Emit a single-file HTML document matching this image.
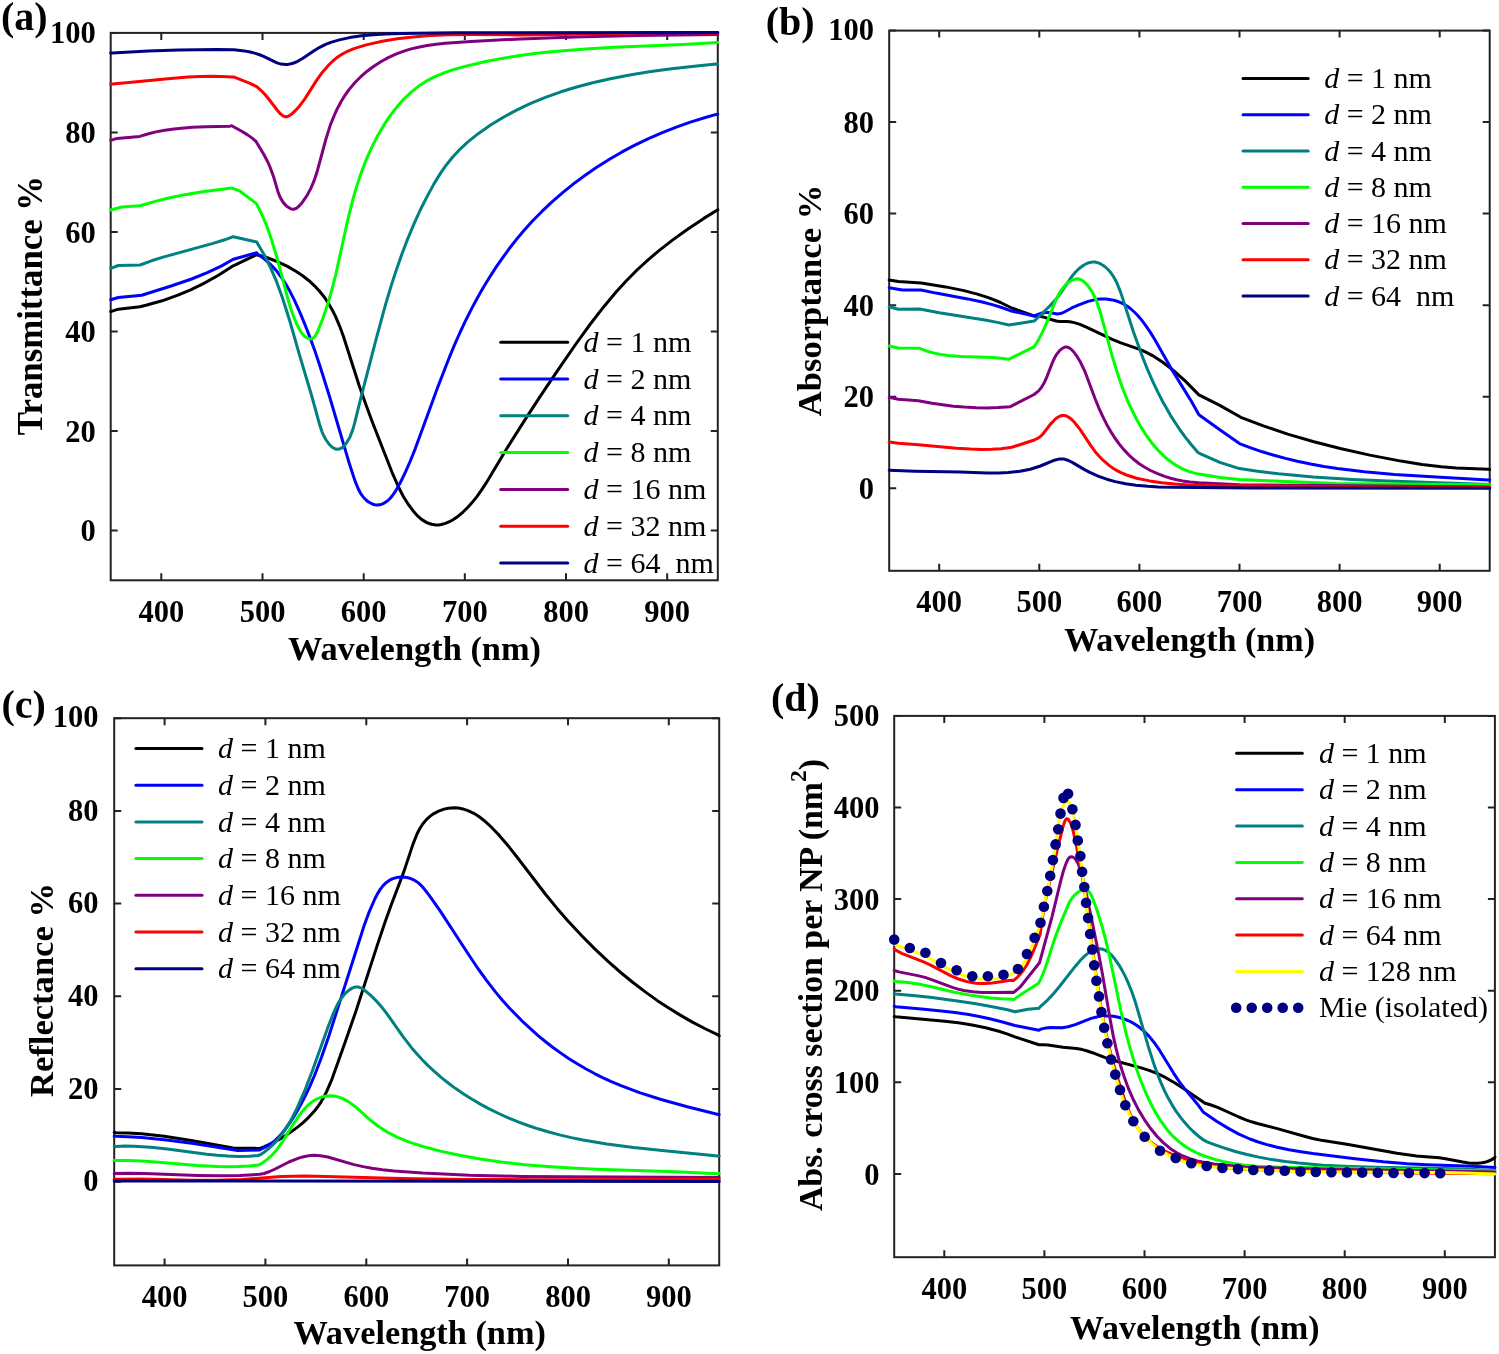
<!DOCTYPE html><html><head><meta charset="utf-8"><style>html,body{margin:0;padding:0;background:#fff;overflow:hidden}svg{display:block;filter:blur(0.45px)}</style></head><body>
<svg width="1499" height="1354" viewBox="0 0 1499 1354">
<rect width="1499" height="1354" fill="#fff"/>
<rect x="110.7" y="32.9" width="607.1" height="547.4" fill="none" stroke="#222222" stroke-width="2"/>
<path d="M161.3,580.3V573.3M161.3,32.9V39.9M262.5,580.3V573.3M262.5,32.9V39.9M363.7,580.3V573.3M363.7,32.9V39.9M464.8,580.3V573.3M464.8,32.9V39.9M566.0,580.3V573.3M566.0,32.9V39.9M667.2,580.3V573.3M667.2,32.9V39.9M110.7,530.4H117.7M717.8,530.4H710.8M110.7,430.9H117.7M717.8,430.9H710.8M110.7,331.4H117.7M717.8,331.4H710.8M110.7,231.9H117.7M717.8,231.9H710.8M110.7,132.4H117.7M717.8,132.4H710.8M110.7,32.9H117.7M717.8,32.9H710.8" stroke="#222222" stroke-width="2" fill="none"/>
<clipPath id="clipa"><rect x="104.7" y="26.9" width="619.1" height="559.4"/></clipPath>
<g clip-path="url(#clipa)" fill="none" stroke-width="3" stroke-linejoin="round" stroke-linecap="round">
<path d="M110.7,311.7 L118.3,309.2 L140.0,306.7 L145.9,305.3 L162.1,300.8 L177.9,295.2 L190.6,289.9 L202.9,283.9 L217.6,275.8 L231.7,266.7 L256.7,254.7 L266.6,257.5 L277.9,261.8 L287.5,266.4 L296.7,271.8 L303.0,276.0 L309.0,280.7 L314.5,285.8 L319.6,291.2 L324.2,297.0 L328.3,303.1 L332.0,309.5 L335.4,316.1 L339.5,325.8 L343.2,335.7 L359.0,385.0 L365.5,403.4 L372.7,422.9 L393.0,474.7 L398.6,487.2 L403.5,496.7 L408.4,504.5 L413.0,510.7 L417.0,515.4 L421.5,519.4 L426.4,522.4 L429.1,523.5 L431.7,524.3 L435.8,524.9 L438.6,524.9 L441.3,524.5 L445.4,523.4 L449.4,521.7 L453.4,519.5 L458.5,515.9 L463.3,511.8 L467.9,507.3 L472.1,502.6 L476.9,496.6 L481.3,490.4 L486.2,482.9 L506.2,449.6 L523.8,421.6 L540.2,396.4 L557.0,371.3 L575.9,344.0 L590.0,324.5 L603.8,306.7 L616.3,291.8 L626.4,280.7 L637.0,270.0 L648.1,259.8 L659.6,250.1 L672.8,239.9 L687.6,229.3 L703.8,218.4 L717.8,209.8" stroke="#000000"/>
<path d="M110.7,299.7 L118.3,297.5 L141.7,295.3 L171.1,286.0 L191.6,279.0 L207.3,272.7 L221.2,266.1 L233.3,259.2 L256.7,252.8 L257.5,254.0 L263.9,258.6 L270.8,264.7 L275.9,270.1 L280.4,276.0 L285.4,283.4 L289.8,291.1 L294.5,300.4 L300.0,312.7 L305.2,325.2 L310.1,337.9 L315.3,352.1 L320.1,366.5 L329.6,396.7 L349.0,462.5 L354.8,480.4 L358.4,489.2 L360.6,493.3 L363.2,497.0 L366.3,500.2 L368.6,502.0 L372.3,504.0 L374.8,504.8 L377.4,505.0 L381.3,504.4 L383.8,503.3 L387.4,501.0 L389.6,499.0 L392.5,495.5 L395.2,491.7 L397.6,487.5 L401.4,480.5 L405.4,472.2 L410.3,461.0 L415.3,448.6 L437.9,386.8 L448.8,358.8 L454.5,344.9 L460.0,332.5 L465.8,320.2 L471.9,308.1 L477.6,297.5 L483.6,287.0 L489.9,276.7 L496.4,266.6 L503.3,256.8 L509.5,248.3 L516.9,238.9 L523.7,230.8 L532.7,220.8 L542.2,211.2 L552.0,201.9 L563.3,192.1 L573.8,183.6 L585.9,174.7 L597.1,167.0 L609.9,159.0 L621.6,152.2 L634.9,145.2 L648.5,138.6 L662.3,132.6 L676.3,127.1 L690.4,122.1 L706.2,117.2 L716.2,114.4 L717.8,114.2" stroke="#0000ff"/>
<path d="M110.7,268.3 L118.3,265.5 L140.0,265.0 L151.5,260.8 L163.1,257.1 L213.0,243.4 L224.7,239.8 L233.3,236.7 L256.7,242.0 L264.3,255.0 L270.3,267.1 L276.3,280.9 L282.0,296.5 L289.8,321.0 L299.7,355.6 L311.6,395.5 L319.5,424.2 L322.0,431.8 L323.9,436.0 L326.1,440.0 L328.7,443.7 L330.7,445.8 L332.7,447.5 L334.9,448.7 L337.0,449.3 L339.2,449.1 L341.3,448.2 L343.3,446.7 L345.2,444.7 L346.9,442.3 L350.0,436.9 L352.8,429.6 L354.5,423.6 L360.8,398.2 L375.4,341.8 L385.3,305.4 L390.9,286.6 L396.5,269.4 L402.0,253.8 L407.9,238.4 L414.3,223.2 L420.5,209.5 L427.3,196.1 L433.8,184.1 L440.1,173.9 L446.1,165.2 L452.7,157.0 L458.8,150.4 L467.6,142.2 L478.2,133.7 L490.6,125.0 L503.4,117.2 L516.6,110.1 L530.1,103.7 L545.4,97.4 L560.9,91.8 L576.7,87.0 L592.7,82.7 L610.4,78.7 L629.8,75.0 L649.2,71.8 L671.6,68.8 L701.4,65.6 L716.1,64.1 L717.8,64.2" stroke="#008080"/>
<path d="M110.7,210.0 L121.7,207.0 L140.0,205.8 L156.3,201.1 L169.7,197.8 L186.2,194.4 L202.8,191.7 L231.7,188.0 L240.0,191.2 L256.2,203.4 L260.4,211.3 L263.5,218.1 L266.4,225.1 L271.9,240.7 L277.1,258.2 L288.2,300.0 L291.1,309.6 L294.3,318.2 L296.9,324.4 L299.2,329.1 L301.0,332.1 L302.9,334.7 L305.1,336.8 L307.6,338.3 L310.1,338.9 L311.3,338.8 L312.4,338.5 L314.3,337.2 L315.8,335.1 L317.2,332.6 L322.9,318.4 L328.2,302.5 L332.0,289.4 L335.7,274.8 L347.3,222.0 L352.7,200.2 L356.0,188.6 L359.7,177.1 L363.3,167.2 L367.2,157.4 L372.2,146.4 L377.7,135.7 L383.8,125.2 L390.5,115.2 L397.0,106.8 L403.9,99.0 L411.5,91.8 L418.4,86.3 L425.8,81.4 L435.0,76.6 L444.7,72.6 L454.7,69.2 L468.0,65.6 L485.8,61.5 L502.1,58.4 L520.0,55.5 L534.8,53.5 L551.2,51.7 L585.6,48.9 L614.1,47.3 L683.2,44.4 L717.8,42.5" stroke="#00ff00"/>
<path d="M110.7,140.4 L117.0,138.4 L139.7,136.4 L148.5,133.8 L155.9,131.9 L164.9,130.2 L174.0,128.9 L192.2,127.3 L205.9,126.7 L230.2,126.2 L231.7,125.7 L241.7,131.2 L247.2,134.6 L252.5,138.4 L256.2,141.7 L264.0,154.8 L267.4,161.2 L269.8,166.5 L273.4,176.2 L277.9,191.5 L279.6,196.0 L281.0,198.9 L283.5,202.9 L286.7,206.3 L290.2,208.6 L292.5,209.2 L293.7,209.2 L296.0,208.5 L298.1,207.0 L302.1,202.7 L307.1,195.4 L311.2,187.6 L314.1,180.7 L317.0,172.1 L325.8,139.5 L330.4,124.9 L333.8,116.5 L336.8,109.7 L341.0,101.7 L344.9,95.4 L349.2,89.4 L355.0,82.5 L360.3,77.2 L367.1,71.2 L373.1,66.7 L380.8,61.7 L388.7,57.4 L397.0,53.7 L404.0,51.1 L411.1,48.9 L418.4,47.2 L427.2,45.5 L436.2,44.2 L445.2,43.3 L470.9,41.5 L520.7,38.9 L574.8,37.0 L637.9,35.6 L717.8,34.4" stroke="#800080"/>
<path d="M110.7,84.4 L112.2,84.1 L128.8,82.6 L165.2,78.9 L187.9,77.1 L200.1,76.5 L210.7,76.3 L221.4,76.5 L232.1,77.0 L233.6,76.9 L250.0,83.3 L256.7,86.7 L261.4,90.8 L265.4,95.0 L269.1,99.5 L277.1,110.0 L280.5,113.9 L282.9,115.8 L284.1,116.4 L285.3,116.8 L286.5,116.8 L288.9,115.9 L291.3,114.3 L294.5,111.5 L298.5,107.3 L304.7,99.1 L316.1,81.1 L321.5,73.4 L328.5,65.2 L332.8,61.0 L336.3,58.1 L340.0,55.5 L345.1,52.5 L349.1,50.6 L354.7,48.4 L366.2,44.9 L382.3,41.3 L397.1,38.8 L413.4,36.9 L429.9,35.6 L449.5,34.8 L472.1,34.6 L519.1,34.9 L543.2,34.8 L660.5,32.6 L689.1,32.6 L716.4,33.2 L717.8,32.9" stroke="#ff0000"/>
<path d="M110.7,53.0 L112.2,53.1 L148.3,51.1 L178.3,50.1 L217.4,49.4 L234.0,49.8 L244.4,50.9 L250.2,52.0 L254.6,53.1 L258.9,54.5 L263.1,56.2 L277.0,62.9 L281.1,64.1 L285.3,64.6 L288.1,64.4 L290.9,63.8 L293.7,63.0 L297.7,61.3 L302.9,58.3 L314.4,50.5 L319.7,47.3 L325.1,44.6 L330.7,42.4 L339.4,39.9 L349.6,37.6 L361.5,35.8 L373.4,34.7 L385.4,34.0 L402.0,33.4 L456.2,32.7 L717.8,32.5" stroke="#000080"/>
</g>
<g font-family="Liberation Serif" font-weight="bold" font-size="30.5" fill="#000">
<text x="161.3" y="622.3" text-anchor="middle">400</text>
<text x="262.5" y="622.3" text-anchor="middle">500</text>
<text x="363.7" y="622.3" text-anchor="middle">600</text>
<text x="464.8" y="622.3" text-anchor="middle">700</text>
<text x="566.0" y="622.3" text-anchor="middle">800</text>
<text x="667.2" y="622.3" text-anchor="middle">900</text>
<text x="95.8" y="541.0" text-anchor="end">0</text>
<text x="95.8" y="441.5" text-anchor="end">20</text>
<text x="95.8" y="342.0" text-anchor="end">40</text>
<text x="95.8" y="242.5" text-anchor="end">60</text>
<text x="95.8" y="143.0" text-anchor="end">80</text>
<text x="95.8" y="42.6" text-anchor="end">100</text>
</g>
<g font-family="Liberation Serif" font-weight="bold" fill="#000">
<text x="414.5" y="659.6" text-anchor="middle" font-size="34.40">Wavelength (nm)</text>
<text transform="translate(42.4,305.5) rotate(-90)" text-anchor="middle" font-size="34.80">Transmittance %</text>
</g>
<text x="1.0" y="29.5" font-family="Liberation Serif" font-weight="bold" font-size="40" fill="#000">(a)</text>
<g font-family="Liberation Serif" font-size="30" fill="#000">
<line x1="500.7" y1="342.2" x2="567.7" y2="342.2" stroke="#000000" stroke-width="3" stroke-linecap="round"/>
<text x="583.5" y="351.8"><tspan font-style="italic">d</tspan> = 1 nm</text>
<line x1="500.7" y1="379.0" x2="567.7" y2="379.0" stroke="#0000ff" stroke-width="3" stroke-linecap="round"/>
<text x="583.5" y="388.6"><tspan font-style="italic">d</tspan> = 2 nm</text>
<line x1="500.7" y1="415.8" x2="567.7" y2="415.8" stroke="#008080" stroke-width="3" stroke-linecap="round"/>
<text x="583.5" y="425.4"><tspan font-style="italic">d</tspan> = 4 nm</text>
<line x1="500.7" y1="452.6" x2="567.7" y2="452.6" stroke="#00ff00" stroke-width="3" stroke-linecap="round"/>
<text x="583.5" y="462.2"><tspan font-style="italic">d</tspan> = 8 nm</text>
<line x1="500.7" y1="489.4" x2="567.7" y2="489.4" stroke="#800080" stroke-width="3" stroke-linecap="round"/>
<text x="583.5" y="499.0"><tspan font-style="italic">d</tspan> = 16 nm</text>
<line x1="500.7" y1="526.2" x2="567.7" y2="526.2" stroke="#ff0000" stroke-width="3" stroke-linecap="round"/>
<text x="583.5" y="535.8"><tspan font-style="italic">d</tspan> = 32 nm</text>
<line x1="500.7" y1="563.0" x2="567.7" y2="563.0" stroke="#000080" stroke-width="3" stroke-linecap="round"/>
<text x="583.5" y="572.6"><tspan font-style="italic">d</tspan> = 64&#160; nm</text>
</g>
<rect x="889.2" y="30.6" width="600.5" height="540.2" fill="none" stroke="#222222" stroke-width="2"/>
<path d="M939.2,570.8V563.8M939.2,30.6V37.6M1039.3,570.8V563.8M1039.3,30.6V37.6M1139.4,570.8V563.8M1139.4,30.6V37.6M1239.5,570.8V563.8M1239.5,30.6V37.6M1339.6,570.8V563.8M1339.6,30.6V37.6M1439.7,570.8V563.8M1439.7,30.6V37.6M889.2,488.2H896.2M1489.7,488.2H1482.7M889.2,396.7H896.2M1489.7,396.7H1482.7M889.2,305.2H896.2M1489.7,305.2H1482.7M889.2,213.6H896.2M1489.7,213.6H1482.7M889.2,122.1H896.2M1489.7,122.1H1482.7M889.2,30.6H896.2M1489.7,30.6H1482.7" stroke="#222222" stroke-width="2" fill="none"/>
<clipPath id="clipb"><rect x="883.2" y="24.6" width="612.5" height="552.2"/></clipPath>
<g clip-path="url(#clipb)" fill="none" stroke-width="3" stroke-linejoin="round" stroke-linecap="round">
<path d="M889.2,280.0 L898.3,281.6 L921.2,282.9 L945.6,286.9 L963.9,290.6 L977.4,294.1 L989.1,297.9 L1000.6,302.5 L1011.7,308.0 L1034.1,316.0 L1037.2,315.9 L1040.2,316.2 L1044.7,317.4 L1051.9,319.8 L1056.3,321.0 L1059.3,321.4 L1066.9,321.5 L1069.9,321.7 L1074.3,322.6 L1080.0,324.4 L1086.9,327.4 L1111.7,339.2 L1120.2,342.6 L1140.3,349.6 L1145.8,352.1 L1152.5,355.6 L1162.8,362.2 L1173.7,370.6 L1185.1,380.9 L1198.9,394.9 L1219.8,405.4 L1240.8,417.3 L1263.4,425.9 L1287.7,434.1 L1313.9,441.8 L1340.3,448.5 L1369.8,455.1 L1401.0,461.1 L1421.9,464.4 L1441.4,466.7 L1456.4,467.9 L1488.2,469.2 L1489.7,469.4" stroke="#000000"/>
<path d="M889.2,287.7 L902.3,290.0 L921.0,290.0 L936.0,293.1 L967.6,298.9 L981.1,301.8 L991.4,304.4 L1001.7,307.5 L1010.3,310.7 L1034.1,316.0 L1041.3,313.2 L1045.7,312.4 L1048.7,312.5 L1057.6,313.9 L1060.4,313.6 L1063.1,312.7 L1071.2,308.2 L1078.2,305.2 L1088.1,301.4 L1095.4,299.6 L1100.0,299.1 L1106.1,299.1 L1112.2,299.9 L1116.6,301.0 L1119.5,302.1 L1123.5,304.0 L1127.4,306.3 L1130.9,309.0 L1134.3,312.0 L1137.5,315.2 L1141.5,319.9 L1145.2,324.8 L1150.4,332.4 L1155.2,340.2 L1172.3,370.4 L1191.5,401.5 L1198.9,414.7 L1219.8,429.8 L1239.5,443.5 L1240.8,444.2 L1250.8,447.9 L1262.3,451.8 L1273.9,455.3 L1285.6,458.4 L1297.3,461.2 L1310.6,464.0 L1323.9,466.4 L1337.4,468.5 L1364.4,471.8 L1394.5,474.5 L1427.8,476.6 L1488.1,480.0 L1489.7,479.9" stroke="#0000ff"/>
<path d="M889.2,306.7 L898.3,309.3 L919.7,309.0 L939.3,312.7 L986.4,320.3 L998.5,322.6 L1009.0,325.0 L1034.3,321.0 L1049.5,306.2 L1055.5,299.9 L1060.1,293.9 L1071.6,276.8 L1075.6,272.0 L1078.8,268.8 L1083.6,265.2 L1086.2,263.8 L1089.0,262.7 L1093.3,261.9 L1094.7,262.0 L1097.6,262.6 L1100.3,263.7 L1102.9,265.2 L1105.3,267.0 L1108.5,270.0 L1110.4,272.2 L1113.0,275.8 L1116.6,282.2 L1120.6,292.1 L1133.4,331.7 L1142.7,357.5 L1147.8,370.1 L1152.6,381.1 L1157.7,391.9 L1162.5,401.3 L1170.6,415.6 L1179.7,429.5 L1185.1,436.8 L1190.7,444.0 L1197.8,452.3 L1198.9,453.1 L1219.8,462.4 L1239.5,468.6 L1257.5,471.2 L1278.5,473.8 L1313.1,476.9 L1352.3,479.4 L1388.5,481.0 L1489.7,484.6" stroke="#008080"/>
<path d="M889.2,346.0 L898.3,348.0 L919.7,348.3 L925.6,350.7 L933.1,352.9 L940.7,354.5 L948.3,355.6 L960.6,356.5 L993.0,357.6 L1000.7,358.2 L1008.3,359.3 L1018.3,354.7 L1034.3,346.7 L1038.5,339.9 L1042.6,331.9 L1046.7,322.6 L1055.8,300.2 L1058.7,294.4 L1061.2,290.3 L1065.0,285.5 L1067.2,283.4 L1069.7,281.5 L1072.3,280.1 L1075.0,279.1 L1077.8,278.8 L1079.1,279.0 L1081.5,279.9 L1083.8,281.6 L1085.9,283.5 L1088.7,286.8 L1092.7,292.9 L1096.5,301.0 L1100.4,312.6 L1111.7,354.4 L1118.8,377.4 L1122.8,388.7 L1127.2,399.8 L1131.5,409.3 L1136.3,418.7 L1141.5,427.9 L1146.5,435.6 L1151.9,443.0 L1157.8,450.0 L1163.1,455.4 L1168.8,460.3 L1174.9,464.6 L1181.4,468.3 L1185.5,470.2 L1189.8,471.8 L1194.3,473.1 L1198.9,474.1 L1220.0,477.5 L1239.5,479.5 L1336.3,483.4 L1489.7,484.8" stroke="#00ff00"/>
<path d="M889.2,397.3 L898.3,399.3 L918.3,400.7 L932.0,403.2 L942.6,404.8 L953.4,406.2 L964.1,407.1 L976.4,407.8 L987.2,407.9 L998.0,407.6 L1010.3,406.7 L1034.1,394.5 L1038.6,390.9 L1041.4,387.5 L1044.5,382.2 L1047.1,376.3 L1052.5,362.4 L1054.5,358.1 L1056.8,354.1 L1059.5,350.7 L1062.7,348.1 L1064.9,347.1 L1067.2,347.1 L1068.4,347.5 L1070.6,348.8 L1073.8,352.0 L1077.5,357.2 L1080.7,362.6 L1085.2,372.2 L1095.3,399.2 L1098.8,407.8 L1102.6,416.2 L1106.7,424.4 L1110.5,431.1 L1114.5,437.5 L1118.9,443.6 L1123.6,449.4 L1128.7,454.8 L1134.2,459.8 L1138.9,463.5 L1143.9,466.8 L1150.5,470.5 L1157.5,473.7 L1164.7,476.4 L1170.6,478.2 L1176.6,479.7 L1182.6,480.9 L1190.0,482.0 L1198.9,482.7 L1239.5,484.8 L1489.7,486.9" stroke="#800080"/>
<path d="M889.2,442.0 L898.3,443.3 L918.3,444.7 L956.5,448.2 L970.4,449.1 L981.1,449.4 L991.9,449.3 L1001.0,448.7 L1010.2,447.6 L1011.7,447.3 L1034.3,440.0 L1038.5,437.9 L1040.8,436.1 L1042.9,434.0 L1050.3,424.4 L1054.7,419.7 L1057.1,417.7 L1059.6,416.3 L1062.2,415.5 L1063.4,415.4 L1066.0,415.8 L1068.4,417.0 L1070.8,418.7 L1074.2,422.0 L1080.2,429.7 L1090.8,445.7 L1095.2,451.7 L1099.2,456.3 L1102.4,459.6 L1109.4,465.6 L1113.1,468.3 L1117.0,470.6 L1121.0,472.7 L1126.5,475.0 L1136.5,478.2 L1149.7,480.9 L1161.6,482.7 L1175.1,484.1 L1188.6,484.9 L1205.2,485.5 L1259.4,485.8 L1342.2,486.8 L1489.7,487.6" stroke="#ff0000"/>
<path d="M889.2,470.3 L914.8,471.3 L959.8,472.1 L987.0,472.9 L999.1,473.0 L1008.1,472.6 L1020.0,471.3 L1030.3,469.2 L1040.4,466.0 L1054.5,460.2 L1058.7,459.1 L1061.5,458.9 L1064.3,459.1 L1068.5,460.5 L1072.7,462.6 L1084.5,469.6 L1089.8,472.4 L1098.1,476.1 L1106.7,479.2 L1115.3,481.6 L1125.5,483.7 L1135.9,485.2 L1147.9,486.3 L1158.4,486.9 L1172.0,487.2 L1251.9,487.9 L1489.7,488.2" stroke="#000080"/>
</g>
<g font-family="Liberation Serif" font-weight="bold" font-size="30.5" fill="#000">
<text x="939.2" y="612.1" text-anchor="middle">400</text>
<text x="1039.3" y="612.1" text-anchor="middle">500</text>
<text x="1139.4" y="612.1" text-anchor="middle">600</text>
<text x="1239.5" y="612.1" text-anchor="middle">700</text>
<text x="1339.6" y="612.1" text-anchor="middle">800</text>
<text x="1439.7" y="612.1" text-anchor="middle">900</text>
<text x="874.0" y="498.8" text-anchor="end">0</text>
<text x="874.0" y="407.3" text-anchor="end">20</text>
<text x="874.0" y="315.8" text-anchor="end">40</text>
<text x="874.0" y="224.2" text-anchor="end">60</text>
<text x="874.0" y="132.7" text-anchor="end">80</text>
<text x="874.0" y="40.3" text-anchor="end">100</text>
</g>
<g font-family="Liberation Serif" font-weight="bold" fill="#000">
<text x="1189.6" y="651.0" text-anchor="middle" font-size="34.10">Wavelength (nm)</text>
<text transform="translate(820.5,300.5) rotate(-90)" text-anchor="middle" font-size="34.60">Absorptance %</text>
</g>
<text x="765.7" y="34.5" font-family="Liberation Serif" font-weight="bold" font-size="40" fill="#000">(b)</text>
<g font-family="Liberation Serif" font-size="30" fill="#000">
<line x1="1243.0" y1="78.4" x2="1308.2" y2="78.4" stroke="#000000" stroke-width="3" stroke-linecap="round"/>
<text x="1324.2" y="88.0"><tspan font-style="italic">d</tspan> = 1 nm</text>
<line x1="1243.0" y1="114.7" x2="1308.2" y2="114.7" stroke="#0000ff" stroke-width="3" stroke-linecap="round"/>
<text x="1324.2" y="124.3"><tspan font-style="italic">d</tspan> = 2 nm</text>
<line x1="1243.0" y1="150.9" x2="1308.2" y2="150.9" stroke="#008080" stroke-width="3" stroke-linecap="round"/>
<text x="1324.2" y="160.5"><tspan font-style="italic">d</tspan> = 4 nm</text>
<line x1="1243.0" y1="187.2" x2="1308.2" y2="187.2" stroke="#00ff00" stroke-width="3" stroke-linecap="round"/>
<text x="1324.2" y="196.8"><tspan font-style="italic">d</tspan> = 8 nm</text>
<line x1="1243.0" y1="223.5" x2="1308.2" y2="223.5" stroke="#800080" stroke-width="3" stroke-linecap="round"/>
<text x="1324.2" y="233.1"><tspan font-style="italic">d</tspan> = 16 nm</text>
<line x1="1243.0" y1="259.8" x2="1308.2" y2="259.8" stroke="#ff0000" stroke-width="3" stroke-linecap="round"/>
<text x="1324.2" y="269.4"><tspan font-style="italic">d</tspan> = 32 nm</text>
<line x1="1243.0" y1="296.0" x2="1308.2" y2="296.0" stroke="#000080" stroke-width="3" stroke-linecap="round"/>
<text x="1324.2" y="305.6"><tspan font-style="italic">d</tspan> = 64&#160; nm</text>
</g>
<rect x="114.2" y="718.2" width="605.0" height="547.2" fill="none" stroke="#222222" stroke-width="2"/>
<path d="M164.6,1265.4V1258.4M164.6,718.2V725.2M265.4,1265.4V1258.4M265.4,718.2V725.2M366.3,1265.4V1258.4M366.3,718.2V725.2M467.1,1265.4V1258.4M467.1,718.2V725.2M568.0,1265.4V1258.4M568.0,718.2V725.2M668.8,1265.4V1258.4M668.8,718.2V725.2M114.2,1181.7H121.2M719.2,1181.7H712.2M114.2,1089.0H121.2M719.2,1089.0H712.2M114.2,996.3H121.2M719.2,996.3H712.2M114.2,903.6H121.2M719.2,903.6H712.2M114.2,810.9H121.2M719.2,810.9H712.2M114.2,718.2H121.2M719.2,718.2H712.2" stroke="#222222" stroke-width="2" fill="none"/>
<clipPath id="clipc"><rect x="108.2" y="712.2" width="617.0" height="559.2"/></clipPath>
<g clip-path="url(#clipc)" fill="none" stroke-width="3" stroke-linejoin="round" stroke-linecap="round">
<path d="M114.2,1132.3 L115.7,1132.7 L127.9,1133.0 L141.6,1133.8 L164.2,1136.2 L191.3,1140.4 L233.2,1148.0 L259.7,1148.4 L263.9,1146.9 L272.1,1143.2 L278.7,1139.7 L285.2,1135.8 L291.5,1131.6 L297.6,1127.1 L303.4,1122.3 L307.8,1118.2 L314.9,1110.5 L318.5,1105.8 L320.9,1102.1 L323.9,1096.9 L326.6,1091.6 L332.0,1079.1 L345.2,1042.1 L355.5,1012.4 L377.3,945.1 L385.0,922.3 L391.0,905.5 L403.7,872.1 L413.0,844.1 L417.0,834.0 L419.7,828.7 L422.9,823.7 L426.7,819.3 L429.9,816.4 L433.4,813.8 L438.6,811.1 L444.1,809.1 L448.4,808.2 L454.2,807.8 L458.5,808.1 L462.9,808.9 L468.5,810.8 L473.8,813.3 L478.9,816.5 L483.7,820.2 L489.5,825.3 L498.2,834.3 L509.2,847.1 L518.5,859.0 L545.7,894.5 L557.1,908.4 L568.0,920.9 L581.3,935.3 L594.0,948.1 L608.3,961.6 L621.9,973.5 L633.6,983.0 L645.6,992.1 L657.8,1000.9 L669.1,1008.3 L680.7,1015.4 L692.4,1022.1 L705.7,1029.0 L718.0,1034.8 L719.2,1035.8" stroke="#000000"/>
<path d="M114.2,1136.0 L115.7,1136.3 L128.0,1136.7 L141.8,1137.5 L166.3,1139.9 L193.7,1143.6 L237.7,1150.6 L259.7,1149.9 L268.0,1145.7 L271.7,1143.1 L275.2,1140.3 L279.5,1136.2 L284.3,1130.5 L289.6,1123.2 L295.2,1114.4 L300.4,1105.3 L305.2,1096.0 L309.7,1086.6 L314.5,1075.5 L321.5,1057.2 L329.4,1034.4 L364.0,926.0 L369.2,911.8 L374.8,899.0 L377.7,893.4 L380.2,889.4 L382.9,885.8 L386.1,882.7 L389.6,880.2 L392.2,878.9 L396.4,877.6 L400.8,877.1 L405.2,877.3 L408.1,877.8 L410.9,878.6 L413.6,879.8 L416.0,881.2 L418.4,882.9 L420.5,884.8 L423.6,888.1 L429.2,895.3 L439.8,910.4 L467.9,953.5 L477.9,968.5 L486.7,980.6 L495.8,992.4 L502.6,1000.5 L509.6,1008.3 L523.3,1022.2 L537.8,1035.3 L545.9,1042.0 L553.0,1047.5 L561.6,1053.6 L569.0,1058.7 L578.0,1064.3 L585.7,1068.8 L595.0,1073.8 L603.1,1077.9 L611.3,1081.6 L621.0,1085.7 L639.5,1092.6 L661.1,1099.5 L687.3,1106.7 L719.2,1114.7" stroke="#0000ff"/>
<path d="M114.2,1146.2 L115.7,1146.5 L124.9,1146.1 L134.0,1146.2 L150.7,1147.2 L167.4,1149.0 L206.7,1154.2 L217.3,1155.3 L227.9,1156.1 L238.5,1156.4 L249.1,1156.2 L258.2,1155.5 L261.1,1154.3 L264.8,1151.7 L269.4,1148.0 L272.7,1144.9 L276.8,1140.6 L283.3,1132.3 L289.8,1122.1 L293.4,1115.4 L297.5,1107.2 L305.3,1089.3 L312.2,1071.3 L328.4,1026.0 L333.6,1012.9 L336.8,1005.8 L339.0,1001.8 L341.5,998.0 L344.3,994.5 L346.3,992.4 L349.7,989.6 L352.2,988.1 L354.8,987.1 L357.4,986.9 L358.7,987.1 L361.3,988.1 L365.0,990.6 L370.9,995.5 L377.2,1001.9 L382.1,1007.6 L386.8,1013.6 L403.4,1037.1 L411.7,1047.9 L416.6,1053.6 L422.7,1060.2 L428.0,1065.6 L434.6,1071.7 L441.4,1077.6 L448.5,1083.2 L455.7,1088.6 L464.4,1094.5 L472.1,1099.3 L481.2,1104.6 L489.2,1108.9 L498.7,1113.5 L508.3,1117.9 L518.1,1121.8 L528.0,1125.5 L537.9,1128.8 L548.0,1131.8 L559.6,1134.9 L571.3,1137.6 L583.0,1140.0 L606.8,1144.1 L633.7,1147.6 L662.2,1150.6 L717.7,1155.9 L719.2,1155.9" stroke="#008080"/>
<path d="M114.2,1160.2 L115.7,1160.5 L129.4,1160.5 L146.1,1161.2 L197.6,1165.4 L217.4,1166.5 L228.0,1166.7 L238.6,1166.5 L249.2,1166.0 L258.2,1165.1 L259.7,1164.6 L262.4,1162.9 L267.3,1159.4 L271.6,1155.5 L275.5,1151.3 L279.0,1146.7 L282.4,1141.8 L293.2,1124.3 L297.7,1117.5 L302.4,1111.2 L307.6,1105.6 L311.0,1102.7 L313.3,1101.0 L318.3,1098.3 L322.3,1096.8 L325.0,1096.2 L330.6,1095.7 L334.7,1096.1 L338.8,1097.1 L342.9,1098.6 L348.0,1101.4 L355.4,1106.7 L370.5,1120.3 L377.8,1126.0 L386.8,1131.8 L397.5,1137.3 L410.0,1142.4 L422.9,1146.5 L440.4,1151.1 L459.5,1155.3 L480.2,1159.0 L502.5,1162.2 L524.9,1164.7 L550.4,1166.8 L571.5,1168.1 L595.7,1169.2 L675.6,1171.8 L717.6,1173.7 L719.2,1173.5" stroke="#00ff00"/>
<path d="M114.2,1173.4 L129.4,1173.2 L144.5,1173.5 L197.6,1175.4 L218.8,1175.8 L240.0,1175.5 L259.7,1174.3 L264.1,1173.5 L269.7,1171.5 L275.2,1169.0 L288.9,1162.0 L297.4,1158.6 L301.6,1157.2 L305.9,1156.2 L310.3,1155.6 L314.6,1155.3 L320.4,1155.7 L327.7,1157.0 L354.1,1164.6 L363.0,1166.6 L371.9,1168.3 L382.3,1169.8 L394.2,1171.1 L422.7,1173.1 L469.3,1175.2 L522.0,1176.4 L565.6,1176.8 L719.2,1177.6" stroke="#800080"/>
<path d="M114.2,1179.2 L141.3,1179.0 L192.5,1180.3 L216.6,1180.3 L242.2,1179.4 L281.2,1176.6 L305.2,1176.1 L326.2,1176.4 L401.4,1178.5 L466.2,1179.4 L533.9,1179.7 L719.2,1179.6" stroke="#ff0000"/>
<path d="M114.2,1180.9 L719.2,1181.4" stroke="#000080"/>
</g>
<g font-family="Liberation Serif" font-weight="bold" font-size="30.5" fill="#000">
<text x="164.6" y="1306.8" text-anchor="middle">400</text>
<text x="265.4" y="1306.8" text-anchor="middle">500</text>
<text x="366.3" y="1306.8" text-anchor="middle">600</text>
<text x="467.1" y="1306.8" text-anchor="middle">700</text>
<text x="568.0" y="1306.8" text-anchor="middle">800</text>
<text x="668.8" y="1306.8" text-anchor="middle">900</text>
<text x="98.5" y="1191.3" text-anchor="end">0</text>
<text x="98.5" y="1098.6" text-anchor="end">20</text>
<text x="98.5" y="1005.9" text-anchor="end">40</text>
<text x="98.5" y="913.2" text-anchor="end">60</text>
<text x="98.5" y="820.5" text-anchor="end">80</text>
<text x="98.5" y="726.9" text-anchor="end">100</text>
</g>
<g font-family="Liberation Serif" font-weight="bold" fill="#000">
<text x="419.7" y="1343.5" text-anchor="middle" font-size="34.30">Wavelength (nm)</text>
<text transform="translate(52.5,990.0) rotate(-90)" text-anchor="middle" font-size="34.60">Reflectance %</text>
</g>
<text x="1.4" y="717.5" font-family="Liberation Serif" font-weight="bold" font-size="40" fill="#000">(c)</text>
<g font-family="Liberation Serif" font-size="30" fill="#000">
<line x1="135.9" y1="748.6" x2="202.0" y2="748.6" stroke="#000000" stroke-width="3" stroke-linecap="round"/>
<text x="218.1" y="758.2"><tspan font-style="italic">d</tspan> = 1 nm</text>
<line x1="135.9" y1="785.3" x2="202.0" y2="785.3" stroke="#0000ff" stroke-width="3" stroke-linecap="round"/>
<text x="218.1" y="794.9"><tspan font-style="italic">d</tspan> = 2 nm</text>
<line x1="135.9" y1="822.0" x2="202.0" y2="822.0" stroke="#008080" stroke-width="3" stroke-linecap="round"/>
<text x="218.1" y="831.6"><tspan font-style="italic">d</tspan> = 4 nm</text>
<line x1="135.9" y1="858.6" x2="202.0" y2="858.6" stroke="#00ff00" stroke-width="3" stroke-linecap="round"/>
<text x="218.1" y="868.2"><tspan font-style="italic">d</tspan> = 8 nm</text>
<line x1="135.9" y1="895.3" x2="202.0" y2="895.3" stroke="#800080" stroke-width="3" stroke-linecap="round"/>
<text x="218.1" y="904.9"><tspan font-style="italic">d</tspan> = 16 nm</text>
<line x1="135.9" y1="932.0" x2="202.0" y2="932.0" stroke="#ff0000" stroke-width="3" stroke-linecap="round"/>
<text x="218.1" y="941.6"><tspan font-style="italic">d</tspan> = 32 nm</text>
<line x1="135.9" y1="968.7" x2="202.0" y2="968.7" stroke="#000080" stroke-width="3" stroke-linecap="round"/>
<text x="218.1" y="978.3"><tspan font-style="italic">d</tspan> = 64 nm</text>
</g>
<rect x="894.2" y="715.9" width="600.7" height="541.3" fill="none" stroke="#222222" stroke-width="2"/>
<path d="M944.3,1257.2V1250.2M944.3,715.9V722.9M1044.4,1257.2V1250.2M1044.4,715.9V722.9M1144.5,1257.2V1250.2M1144.5,715.9V722.9M1244.6,1257.2V1250.2M1244.6,715.9V722.9M1344.7,1257.2V1250.2M1344.7,715.9V722.9M1444.8,1257.2V1250.2M1444.8,715.9V722.9M894.2,1173.9H901.2M1494.9,1173.9H1487.9M894.2,1082.3H901.2M1494.9,1082.3H1487.9M894.2,990.7H901.2M1494.9,990.7H1487.9M894.2,899.1H901.2M1494.9,899.1H1487.9M894.2,807.5H901.2M1494.9,807.5H1487.9M894.2,715.9H901.2M1494.9,715.9H1487.9" stroke="#222222" stroke-width="2" fill="none"/>
<clipPath id="clipd"><rect x="888.2" y="709.9" width="612.7" height="553.3"/></clipPath>
<g clip-path="url(#clipd)" fill="none" stroke-width="3" stroke-linejoin="round" stroke-linecap="round">
<path d="M894.2,1016.5 L895.7,1016.8 L944.7,1021.2 L958.4,1022.8 L972.1,1025.0 L985.6,1027.8 L998.9,1031.3 L1007.7,1034.1 L1014.9,1036.9 L1038.9,1044.7 L1043.5,1044.8 L1048.0,1045.1 L1063.0,1047.2 L1076.4,1048.6 L1082.3,1049.6 L1086.6,1050.8 L1092.4,1052.7 L1111.0,1059.8 L1140.4,1067.6 L1149.1,1070.4 L1157.6,1073.7 L1165.8,1077.7 L1175.0,1083.0 L1183.9,1088.8 L1203.9,1102.6 L1205.3,1103.3 L1211.1,1105.0 L1218.2,1107.7 L1238.9,1117.0 L1245.8,1119.8 L1251.5,1121.8 L1257.3,1123.5 L1276.4,1128.4 L1302.5,1135.8 L1312.7,1138.5 L1323.0,1140.6 L1346.8,1144.3 L1397.0,1153.3 L1416.4,1155.9 L1439.3,1157.8 L1445.5,1158.8 L1462.8,1162.0 L1468.9,1162.9 L1473.4,1163.2 L1477.8,1163.2 L1482.0,1162.8 L1484.8,1162.3 L1488.7,1161.0 L1491.3,1159.9 L1493.8,1158.4 L1494.9,1157.2" stroke="#000000"/>
<path d="M894.2,1006.2 L895.7,1006.7 L921.5,1008.9 L941.3,1010.9 L955.0,1012.6 L968.7,1014.6 L979.2,1016.5 L989.7,1018.7 L1001.6,1021.7 L1014.9,1025.5 L1038.9,1030.3 L1040.4,1029.4 L1041.8,1028.9 L1046.3,1027.9 L1050.7,1027.6 L1062.4,1027.7 L1068.1,1026.8 L1075.3,1024.6 L1091.1,1018.4 L1098.5,1016.5 L1103.0,1015.9 L1109.0,1015.9 L1113.5,1016.3 L1119.4,1017.5 L1123.7,1018.8 L1127.9,1020.5 L1131.9,1022.4 L1135.8,1024.7 L1139.4,1027.3 L1142.9,1030.1 L1149.2,1036.4 L1153.9,1042.2 L1159.2,1049.7 L1173.7,1073.3 L1179.6,1082.2 L1184.2,1088.1 L1197.5,1104.2 L1202.9,1111.7 L1204.0,1112.7 L1205.3,1113.4 L1216.6,1121.2 L1228.3,1128.4 L1238.9,1134.1 L1249.9,1139.0 L1258.3,1142.0 L1266.9,1144.6 L1277.2,1147.2 L1289.0,1149.7 L1300.9,1151.7 L1312.9,1153.5 L1355.0,1158.7 L1383.4,1161.8 L1407.4,1163.7 L1427.0,1164.7 L1472.3,1166.3 L1494.9,1167.6" stroke="#0000ff"/>
<path d="M894.2,993.6 L895.7,994.0 L915.4,995.8 L932.1,997.5 L960.8,1001.4 L976.0,1003.8 L991.0,1006.5 L1007.5,1009.8 L1014.9,1011.7 L1028.1,1009.2 L1038.9,1008.3 L1039.8,1007.1 L1047.8,999.8 L1053.9,993.2 L1059.5,986.5 L1075.4,966.2 L1080.7,960.0 L1085.3,955.4 L1090.3,951.6 L1094.1,949.6 L1096.7,948.9 L1099.3,948.7 L1103.1,949.3 L1105.5,950.3 L1108.9,952.6 L1112.1,955.6 L1115.0,959.3 L1118.7,964.6 L1121.9,970.1 L1124.9,975.6 L1128.1,982.6 L1132.0,992.3 L1135.8,1003.6 L1148.5,1047.2 L1154.6,1066.1 L1157.7,1074.7 L1161.1,1083.1 L1164.8,1091.4 L1168.2,1098.1 L1171.9,1104.6 L1175.8,1110.9 L1180.2,1116.9 L1183.9,1121.6 L1188.9,1127.2 L1193.2,1131.5 L1198.9,1136.5 L1203.9,1140.3 L1205.3,1140.7 L1206.5,1141.6 L1212.3,1143.8 L1223.8,1147.9 L1235.3,1151.5 L1247.0,1154.5 L1258.7,1157.1 L1272.0,1159.6 L1285.3,1161.5 L1298.7,1163.1 L1322.6,1165.2 L1349.7,1166.5 L1375.4,1167.2 L1445.0,1168.4 L1470.7,1169.3 L1493.4,1170.7 L1494.9,1170.4" stroke="#008080"/>
<path d="M894.2,981.0 L895.7,981.5 L907.9,982.5 L921.5,984.6 L930.5,986.5 L954.4,992.2 L972.5,995.6 L990.7,998.0 L1001.4,998.8 L1012.2,999.3 L1013.7,999.6 L1020.0,995.1 L1038.6,983.2 L1041.3,977.8 L1044.2,970.9 L1047.2,962.3 L1053.1,943.6 L1056.0,935.1 L1061.4,921.1 L1068.9,903.3 L1070.4,900.6 L1072.3,897.8 L1074.7,895.1 L1077.4,892.6 L1080.3,890.7 L1082.9,889.5 L1084.1,889.4 L1086.2,889.7 L1088.1,890.7 L1089.7,892.5 L1091.1,894.8 L1092.3,897.4 L1097.1,910.5 L1102.1,926.6 L1105.7,939.9 L1109.5,956.1 L1120.8,1010.5 L1126.2,1033.8 L1129.7,1046.8 L1133.1,1058.3 L1136.8,1069.8 L1140.4,1079.7 L1145.0,1091.0 L1150.1,1102.1 L1155.0,1111.6 L1160.6,1120.7 L1166.7,1129.2 L1172.6,1135.9 L1179.1,1141.9 L1185.0,1146.3 L1191.3,1150.2 L1198.1,1153.5 L1205.1,1156.3 L1213.9,1159.1 L1222.7,1161.4 L1233.2,1163.4 L1243.6,1164.9 L1254.1,1166.0 L1266.1,1166.8 L1281.1,1167.2 L1338.3,1168.1 L1494.9,1171.1" stroke="#00ff00"/>
<path d="M894.2,970.2 L895.6,971.0 L900.0,972.1 L917.7,975.6 L925.0,977.4 L932.2,979.8 L952.3,987.4 L958.0,989.1 L963.9,990.5 L972.8,991.8 L981.8,992.4 L993.9,992.6 L1012.2,992.2 L1013.7,992.4 L1020.0,987.2 L1039.5,962.8 L1052.1,916.3 L1060.6,881.4 L1063.4,871.0 L1066.0,863.5 L1067.9,859.3 L1069.5,857.4 L1070.4,856.9 L1071.5,856.8 L1072.6,857.0 L1073.6,857.5 L1075.5,859.2 L1078.0,863.2 L1081.0,871.4 L1083.5,880.6 L1092.7,924.2 L1098.6,953.5 L1102.7,975.6 L1109.8,1017.6 L1113.2,1035.6 L1115.8,1047.4 L1118.4,1057.7 L1121.2,1067.8 L1124.0,1076.3 L1128.6,1088.9 L1133.4,1099.8 L1138.8,1110.4 L1144.2,1119.3 L1150.2,1128.0 L1156.9,1136.2 L1163.2,1142.6 L1170.1,1148.4 L1176.3,1152.5 L1182.9,1156.0 L1190.0,1158.7 L1197.3,1160.9 L1204.9,1162.5 L1214.2,1164.0 L1245.3,1167.2 L1300.0,1168.7 L1494.9,1172.0" stroke="#800080"/>
<path d="M894.2,948.6 L895.2,949.9 L901.7,953.3 L924.2,962.1 L931.1,965.4 L951.5,976.1 L958.5,979.0 L965.6,981.3 L971.5,982.6 L975.9,983.2 L980.4,983.6 L984.9,983.6 L992.5,983.0 L1009.2,980.5 L1012.2,980.3 L1013.7,980.4 L1017.3,977.3 L1020.5,973.9 L1023.4,970.2 L1026.8,965.0 L1031.7,955.1 L1040.1,934.8 L1041.6,922.8 L1043.8,909.4 L1046.4,896.2 L1050.0,880.1 L1059.2,841.9 L1063.1,826.3 L1065.0,820.8 L1066.0,819.2 L1066.6,818.7 L1067.1,818.7 L1068.3,819.4 L1070.1,822.2 L1071.6,825.9 L1073.0,830.3 L1075.2,839.9 L1079.6,862.2 L1083.0,881.3 L1086.1,901.6 L1095.6,971.7 L1099.9,1000.2 L1102.4,1015.1 L1105.3,1029.8 L1108.2,1043.0 L1111.0,1054.5 L1115.7,1071.7 L1121.0,1089.0 L1126.0,1103.6 L1130.0,1113.7 L1134.0,1121.9 L1138.8,1129.5 L1143.5,1135.3 L1146.6,1138.4 L1150.0,1141.4 L1157.2,1146.6 L1165.0,1151.2 L1174.6,1155.6 L1184.4,1159.3 L1194.4,1162.3 L1206.1,1164.9 L1217.9,1166.9 L1229.8,1168.2 L1244.8,1169.3 L1264.6,1170.0 L1418.1,1172.9 L1494.9,1173.8" stroke="#ff0000"/>
<path d="M894.2,944.0 L899.8,946.4 L915.5,952.1 L922.4,954.9 L929.2,958.2 L945.1,967.2 L953.2,971.3 L961.5,974.8 L970.1,977.4 L976.0,978.5 L983.7,979.1 L991.5,979.0 L997.7,978.4 L1003.7,977.2 L1008.0,975.8 L1013.3,973.3 L1016.9,970.9 L1020.0,968.0 L1022.8,964.6 L1025.3,960.8 L1027.5,956.8 L1031.9,946.8 L1040.5,924.0 L1052.7,863.6 L1055.1,848.8 L1057.8,827.6 L1059.8,816.8 L1061.9,809.0 L1064.1,803.7 L1065.9,801.4 L1067.1,801.0 L1067.8,801.1 L1068.5,801.6 L1069.8,803.2 L1071.6,806.8 L1073.5,813.1 L1074.9,820.0 L1080.5,858.9 L1092.9,954.6 L1097.7,988.8 L1100.8,1008.0 L1104.0,1025.7 L1107.6,1043.4 L1111.3,1059.6 L1115.9,1077.2 L1119.8,1090.3 L1123.9,1101.8 L1128.7,1112.7 L1133.7,1121.9 L1139.4,1130.4 L1145.2,1137.2 L1151.6,1143.4 L1157.6,1148.1 L1165.2,1153.1 L1173.3,1157.4 L1180.3,1160.3 L1187.5,1162.6 L1194.8,1164.4 L1200.8,1165.3 L1205.2,1165.7 L1208.2,1166.5 L1214.2,1167.1 L1233.8,1168.6 L1253.3,1169.8 L1295.6,1171.4 L1336.3,1172.1 L1439.1,1172.6 L1464.7,1173.1 L1494.9,1174.0" stroke="#ffff00"/>
<circle cx="894.2" cy="939.6" r="5.3" fill="#000080" stroke="none"/>
<circle cx="909.8" cy="948.0" r="5.3" fill="#000080" stroke="none"/>
<circle cx="925.4" cy="952.8" r="5.3" fill="#000080" stroke="none"/>
<circle cx="941.0" cy="963.0" r="5.3" fill="#000080" stroke="none"/>
<circle cx="956.6" cy="970.2" r="5.3" fill="#000080" stroke="none"/>
<circle cx="972.3" cy="976.2" r="5.3" fill="#000080" stroke="none"/>
<circle cx="987.9" cy="976.2" r="5.3" fill="#000080" stroke="none"/>
<circle cx="1003.5" cy="974.7" r="5.3" fill="#000080" stroke="none"/>
<circle cx="1017.9" cy="969.0" r="5.3" fill="#000080" stroke="none"/>
<circle cx="1026.9" cy="954.0" r="5.3" fill="#000080" stroke="none"/>
<circle cx="1034.6" cy="937.8" r="5.3" fill="#000080" stroke="none"/>
<circle cx="1040.5" cy="922.7" r="5.3" fill="#000080" stroke="none"/>
<circle cx="1043.9" cy="906.8" r="5.3" fill="#000080" stroke="none"/>
<circle cx="1047.3" cy="891.0" r="5.3" fill="#000080" stroke="none"/>
<circle cx="1050.2" cy="875.7" r="5.3" fill="#000080" stroke="none"/>
<circle cx="1052.9" cy="860.1" r="5.3" fill="#000080" stroke="none"/>
<circle cx="1055.6" cy="844.4" r="5.3" fill="#000080" stroke="none"/>
<circle cx="1058.2" cy="829.2" r="5.3" fill="#000080" stroke="none"/>
<circle cx="1060.5" cy="813.6" r="5.3" fill="#000080" stroke="none"/>
<circle cx="1063.5" cy="797.9" r="5.3" fill="#000080" stroke="none"/>
<circle cx="1068.1" cy="793.7" r="5.3" fill="#000080" stroke="none"/>
<circle cx="1072.4" cy="809.2" r="5.3" fill="#000080" stroke="none"/>
<circle cx="1075.5" cy="824.9" r="5.3" fill="#000080" stroke="none"/>
<circle cx="1077.8" cy="840.5" r="5.3" fill="#000080" stroke="none"/>
<circle cx="1080.4" cy="856.1" r="5.3" fill="#000080" stroke="none"/>
<circle cx="1082.1" cy="871.7" r="5.3" fill="#000080" stroke="none"/>
<circle cx="1084.3" cy="887.0" r="5.3" fill="#000080" stroke="none"/>
<circle cx="1086.1" cy="902.7" r="5.3" fill="#000080" stroke="none"/>
<circle cx="1088.1" cy="918.0" r="5.3" fill="#000080" stroke="none"/>
<circle cx="1090.1" cy="934.0" r="5.3" fill="#000080" stroke="none"/>
<circle cx="1092.3" cy="949.5" r="5.3" fill="#000080" stroke="none"/>
<circle cx="1094.2" cy="965.3" r="5.3" fill="#000080" stroke="none"/>
<circle cx="1096.4" cy="980.7" r="5.3" fill="#000080" stroke="none"/>
<circle cx="1099.0" cy="996.4" r="5.3" fill="#000080" stroke="none"/>
<circle cx="1101.4" cy="1012.0" r="5.3" fill="#000080" stroke="none"/>
<circle cx="1104.2" cy="1027.7" r="5.3" fill="#000080" stroke="none"/>
<circle cx="1107.4" cy="1043.3" r="5.3" fill="#000080" stroke="none"/>
<circle cx="1111.1" cy="1059.5" r="5.3" fill="#000080" stroke="none"/>
<circle cx="1115.3" cy="1074.6" r="5.3" fill="#000080" stroke="none"/>
<circle cx="1120.0" cy="1089.9" r="5.3" fill="#000080" stroke="none"/>
<circle cx="1125.3" cy="1105.3" r="5.3" fill="#000080" stroke="none"/>
<circle cx="1133.3" cy="1121.3" r="5.3" fill="#000080" stroke="none"/>
<circle cx="1144.7" cy="1136.7" r="5.3" fill="#000080" stroke="none"/>
<circle cx="1160.0" cy="1150.7" r="5.3" fill="#000080" stroke="none"/>
<circle cx="1175.7" cy="1158.0" r="5.3" fill="#000080" stroke="none"/>
<circle cx="1191.3" cy="1163.3" r="5.3" fill="#000080" stroke="none"/>
<circle cx="1206.7" cy="1166.0" r="5.3" fill="#000080" stroke="none"/>
<circle cx="1222.4" cy="1168.0" r="5.3" fill="#000080" stroke="none"/>
<circle cx="1238.0" cy="1169.1" r="5.3" fill="#000080" stroke="none"/>
<circle cx="1253.3" cy="1170.0" r="5.3" fill="#000080" stroke="none"/>
<circle cx="1269.1" cy="1170.4" r="5.3" fill="#000080" stroke="none"/>
<circle cx="1284.7" cy="1170.8" r="5.3" fill="#000080" stroke="none"/>
<circle cx="1300.5" cy="1171.5" r="5.3" fill="#000080" stroke="none"/>
<circle cx="1315.8" cy="1172.0" r="5.3" fill="#000080" stroke="none"/>
<circle cx="1331.4" cy="1172.2" r="5.3" fill="#000080" stroke="none"/>
<circle cx="1346.9" cy="1172.4" r="5.3" fill="#000080" stroke="none"/>
<circle cx="1362.2" cy="1172.6" r="5.3" fill="#000080" stroke="none"/>
<circle cx="1377.8" cy="1172.8" r="5.3" fill="#000080" stroke="none"/>
<circle cx="1393.5" cy="1173.0" r="5.3" fill="#000080" stroke="none"/>
<circle cx="1408.9" cy="1173.0" r="5.3" fill="#000080" stroke="none"/>
<circle cx="1424.6" cy="1173.1" r="5.3" fill="#000080" stroke="none"/>
<circle cx="1440.2" cy="1173.2" r="5.3" fill="#000080" stroke="none"/>
</g>
<g font-family="Liberation Serif" font-weight="bold" font-size="30.5" fill="#000">
<text x="944.3" y="1299.2" text-anchor="middle">400</text>
<text x="1044.4" y="1299.2" text-anchor="middle">500</text>
<text x="1144.5" y="1299.2" text-anchor="middle">600</text>
<text x="1244.6" y="1299.2" text-anchor="middle">700</text>
<text x="1344.7" y="1299.2" text-anchor="middle">800</text>
<text x="1444.8" y="1299.2" text-anchor="middle">900</text>
<text x="879.5" y="1184.5" text-anchor="end">0</text>
<text x="879.5" y="1092.9" text-anchor="end">100</text>
<text x="879.5" y="1001.3" text-anchor="end">200</text>
<text x="879.5" y="909.7" text-anchor="end">300</text>
<text x="879.5" y="818.1" text-anchor="end">400</text>
<text x="879.5" y="725.6" text-anchor="end">500</text>
</g>
<g font-family="Liberation Serif" font-weight="bold" fill="#000">
<text x="1194.8" y="1338.5" text-anchor="middle" font-size="33.90">Wavelength (nm)</text>
<text transform="translate(822.0,985.0) rotate(-90)" text-anchor="middle" font-size="33.85">Abs. cross section per NP (nm<tspan font-size="70%" dy="-16.5">2</tspan><tspan dy="16.5">)</tspan></text>
</g>
<text x="770.9" y="711.3" font-family="Liberation Serif" font-weight="bold" font-size="40" fill="#000">(d)</text>
<g font-family="Liberation Serif" font-size="30" fill="#000">
<line x1="1236.6" y1="753.3" x2="1302.3" y2="753.3" stroke="#000000" stroke-width="3" stroke-linecap="round"/>
<text x="1318.9" y="762.9"><tspan font-style="italic">d</tspan> = 1 nm</text>
<line x1="1236.6" y1="789.7" x2="1302.3" y2="789.7" stroke="#0000ff" stroke-width="3" stroke-linecap="round"/>
<text x="1318.9" y="799.3"><tspan font-style="italic">d</tspan> = 2 nm</text>
<line x1="1236.6" y1="826.0" x2="1302.3" y2="826.0" stroke="#008080" stroke-width="3" stroke-linecap="round"/>
<text x="1318.9" y="835.6"><tspan font-style="italic">d</tspan> = 4 nm</text>
<line x1="1236.6" y1="862.4" x2="1302.3" y2="862.4" stroke="#00ff00" stroke-width="3" stroke-linecap="round"/>
<text x="1318.9" y="872.0"><tspan font-style="italic">d</tspan> = 8 nm</text>
<line x1="1236.6" y1="898.7" x2="1302.3" y2="898.7" stroke="#800080" stroke-width="3" stroke-linecap="round"/>
<text x="1318.9" y="908.3"><tspan font-style="italic">d</tspan> = 16 nm</text>
<line x1="1236.6" y1="935.1" x2="1302.3" y2="935.1" stroke="#ff0000" stroke-width="3" stroke-linecap="round"/>
<text x="1318.9" y="944.7"><tspan font-style="italic">d</tspan> = 64 nm</text>
<line x1="1236.6" y1="971.5" x2="1302.3" y2="971.5" stroke="#ffff00" stroke-width="3" stroke-linecap="round"/>
<text x="1318.9" y="981.1"><tspan font-style="italic">d</tspan> = 128 nm</text>
<circle cx="1236.2" cy="1007.8" r="5.3" fill="#000080"/>
<circle cx="1251.7" cy="1007.8" r="5.3" fill="#000080"/>
<circle cx="1267.2" cy="1007.8" r="5.3" fill="#000080"/>
<circle cx="1282.7" cy="1007.8" r="5.3" fill="#000080"/>
<circle cx="1298.2" cy="1007.8" r="5.3" fill="#000080"/>
<text x="1318.9" y="1017.4">Mie (isolated)</text>
</g>
</svg></body></html>
